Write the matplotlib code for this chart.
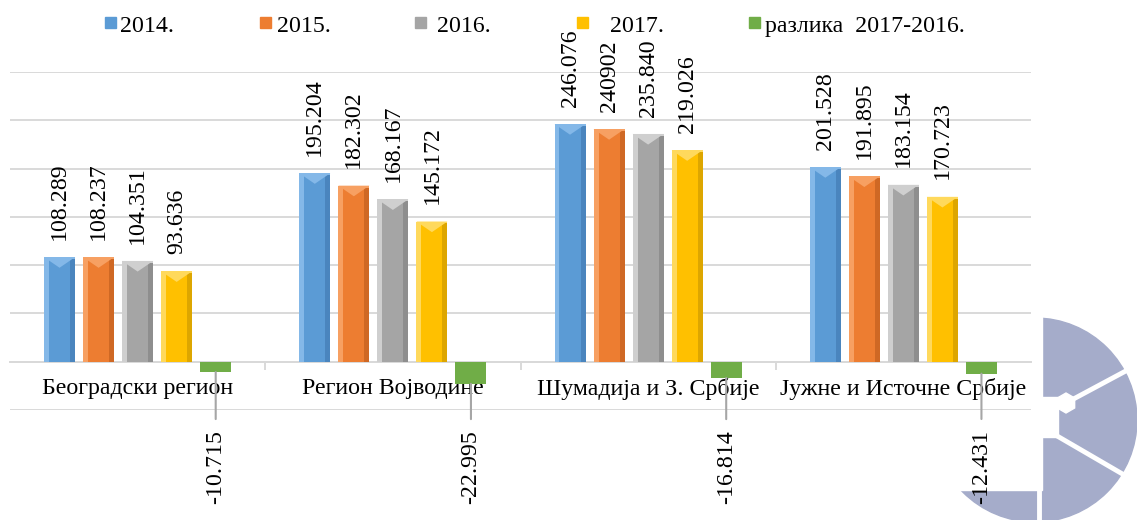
import matplotlib
matplotlib.use("Agg")
import matplotlib.pyplot as plt
import numpy as np
from matplotlib.patches import Polygon, Rectangle, Circle, RegularPolygon
from matplotlib.transforms import Affine2D, blended_transform_factory
from matplotlib.lines import Line2D

# ---------------- data ----------------
categories = ["Београдски регион", "Регион Војводине",
              "Шумадија и З. Србије", "Јужне и Источне Србије"]
series_names = ["2014.", "2015.", "2016.", "2017.", "разлика  2017-2016."]
v2014 = [108.289, 195.204, 246.076, 201.528]
v2015 = [108.237, 182.302, 240.902, 191.895]
v2016 = [104.351, 168.167, 235.840, 183.154]
v2017 = [93.636, 145.172, 219.026, 170.723]
diff = [-10.715, -22.995, -16.814, -12.431]
lbl2014 = ["108.289", "195.204", "246.076", "201.528"]
lbl2015 = ["108.237", "182.302", "240902", "191.895"]
lbl2016 = ["104.351", "168.167", "235.840", "183.154"]
lbl2017 = ["93.636", "145.172", "219.026", "170.723"]
lbldiff = ["-10.715", "-22.995", "-16.814", "-12.431"]

# ---------------- style ----------------
plt.rcParams["font.family"] = ["Liberation Serif", "DejaVu Serif"]
FS = 17.2
base = ["#5B9BD5", "#ED7D31", "#A5A5A5", "#FFC000", "#70AD47"]
light = ["#84B8E8", "#F7A062", "#CFCFCF", "#FFD95C", "#70AD47"]
dark = ["#4A85BE", "#CF6824", "#8E8E8E", "#DDA600", "#70AD47"]
grid_c = "#D9D9D9"

W, H = 1137, 520
fig = plt.figure(figsize=(W / 100, H / 100), dpi=100)
px = Affine2D().scale(1 / W, -1 / H).translate(0, 1) + fig.transFigure

# decorative logo (watermark) at bottom right
logo_c = "#A5ACCA"
fig.patches.append(Circle((1035, 420), 102, transform=px, color=logo_c, zorder=-3))
fig.patches.append(Rectangle((0, 0), 1042, 490, transform=px, color="white", zorder=-2))
fig.patches.append(Rectangle((1040, 397), 18, 40, transform=px, color="white", zorder=-2))
fig.patches.append(RegularPolygon((1066, 403), 6, radius=10, transform=px, color="white", zorder=-2))
for (xa, ya, xb, yb) in [(1066, 403, 1150, 358), (1052, 433, 1150, 490), (1039, 488, 1039, 530)]:
    fig.lines.append(Line2D([xa, xb], [ya, yb], transform=px, color="white", lw=3.5, zorder=-1.5))

ax = fig.add_axes([10 / W, 1 - 410 / H, (1031 - 10) / W, (410 - 72) / H])
ax.set_facecolor("white")

x = np.arange(len(categories))
width = 31 / 255
step = 39 / 255
vals = [v2014, v2015, v2016, v2017, diff]
lbls = [lbl2014, lbl2015, lbl2016, lbl2017, lbldiff]
trans_lab = blended_transform_factory(ax.transData, ax.transAxes)

for i, (vs, ls) in enumerate(zip(vals, lbls)):
    bars = ax.bar(x + (i - 2) * step, vs, width, color=base[i], zorder=3, lw=0)
    for rect, txt in zip(bars, ls):
        x0, w, h = rect.get_x(), rect.get_width(), rect.get_height()
        xc = x0 + w / 2
        if i < 4:
            # bevel look
            ax.add_patch(Rectangle((x0, 0), w * 0.16, h, color=light[i], lw=0, zorder=3.1))
            ax.add_patch(Rectangle((x0 + w * 0.84, 0), w * 0.16, h, color=dark[i], lw=0, zorder=3.1))
            ax.add_patch(Polygon([(x0, h), (x0 + w, h), (xc, h - 11)], closed=True,
                                 color=light[i], lw=0, zorder=3.2))
            ax.add_patch(Rectangle((x0, h - 2), w, 2, color=light[i], lw=0, zorder=3.2))
            ax.annotate(txt, (xc, h), xytext=(0, 12.5), textcoords="offset points",
                        rotation=90, ha="center", va="bottom", fontsize=FS,
                        annotation_clip=False, zorder=5)
        else:
            ax.annotate(txt, xy=(xc, h), xycoords="data", xytext=(xc, -0.169),
                        textcoords=trans_lab, rotation=90, ha="center", va="center",
                        fontsize=FS, annotation_clip=False, zorder=5,
                        arrowprops=dict(arrowstyle="-", color="#A6A6A6", lw=1.5,
                                        shrinkA=6, shrinkB=0))

ax.set_xlim(-0.5, len(categories) - 0.5)
ax.set_ylim(-50, 300)
ax.set_yticks(np.arange(-50, 301, 50))
ax.yaxis.grid(True, color=grid_c, lw=1.4, zorder=0)
ax.tick_params(axis="y", length=0, labelleft=False)
for s in ["left", "right", "top"]:
    ax.spines[s].set_visible(False)
ax.spines["bottom"].set_position(("data", 0))
ax.spines["bottom"].set_color(grid_c)
ax.spines["bottom"].set_linewidth(1.4)
ax.spines["bottom"].set_zorder(2)
ax.set_xticks(x)
ax.set_xticklabels(categories, fontsize=FS)
ax.tick_params(axis="x", which="major", length=0, pad=12)
ax.set_xticks(x[:-1] + 0.5, minor=True)
ax.tick_params(axis="x", which="minor", length=6, color=grid_c, width=1.4, direction="out")

# legend (manual layout)
leg_marker_x = [105, 260, 415, 577, 749]
leg_text_x = [120, 277, 437, 610, 765]
for mx, tx, c, name in zip(leg_marker_x, leg_text_x, base, series_names):
    fig.patches.append(Rectangle((mx, 17), 11, 11, transform=px, color=c))
    fig.text(tx, 32, name, transform=px, fontsize=FS, va="baseline", ha="left")

fig.savefig("out.png", dpi=100)
